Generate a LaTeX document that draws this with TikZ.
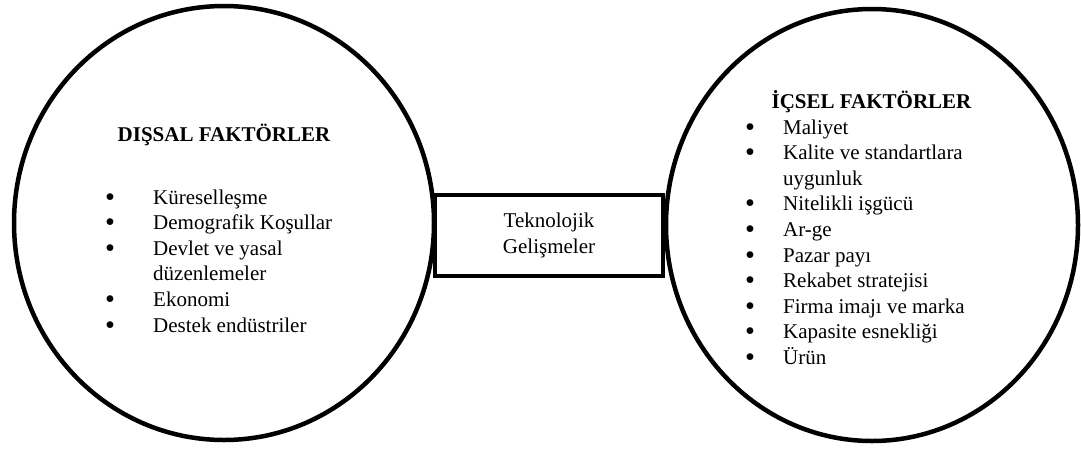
\documentclass[tikz,border=0pt]{standalone}
\usepackage{fontspec}
\setmainfont{Liberation Serif}
\usetikzlibrary{shapes.geometric}
% bullet item with a fixed indent, and a continuation line
\newcommand{\bigdot}{\raisebox{-2pt}{\scalebox{1.35}{\textbullet}}}
\newcommand{\litem}[2]{\makebox[#1][l]{\bigdot}#2}
\newcommand{\lcont}[2]{\hspace*{#1}#2}
\begin{document}
\begin{tikzpicture}[x=1pt,y=-1pt,
  ring/.style={draw, ellipse, line width=4.5pt, inner sep=0pt},
  linkbox/.style={draw, rectangle, line width=4pt, inner sep=0pt, align=center,
                  font=\fontsize{21}{25.6}\selectfont},
  body/.style={font=\fontsize{21}{25.6}\selectfont, inner sep=0pt},
  heading/.style={font=\fontsize{21}{25.6}\selectfont\bfseries, inner sep=0pt, anchor=base},
]
\useasboundingbox (0,0) rectangle (1081,448);

% the two factor circles
\node[ring, minimum width=420pt, minimum height=434pt] (ext) at (224,223) {};
\node[ring, minimum width=412pt, minimum height=432pt] (int) at (872,225) {};

% the linking box between them
\node[linkbox, minimum width=228pt, minimum height=81pt] (tech) at (549,235.5)
  {Teknolojik\\Gelişmeler};

% external factors
\node[heading] (extTitle) at (224,141) {DIŞSAL FAKTÖRLER};
\node[body, anchor=base west] (extList) at (105,204) {%
  \begin{tabular}[t]{@{}l@{}}
  \litem{48pt}{Küreselleşme}\\
  \litem{48pt}{Demografik Koşullar}\\
  \litem{48pt}{Devlet ve yasal}\\
  \lcont{48pt}{düzenlemeler}\\
  \litem{48pt}{Ekonomi}\\
  \litem{48pt}{Destek endüstriler}
  \end{tabular}};

% internal factors
\node[heading] (intTitle) at (871.5,108) {İÇSEL FAKTÖRLER};
\node[body, anchor=base west] (intList) at (745,134) {%
  \begin{tabular}[t]{@{}l@{}}
  \litem{38pt}{Maliyet}\\
  \litem{38pt}{Kalite ve standartlara}\\
  \lcont{38pt}{uygunluk}\\
  \litem{38pt}{Nitelikli işgücü}\\
  \litem{38pt}{Ar-ge}\\
  \litem{38pt}{Pazar payı}\\
  \litem{38pt}{Rekabet stratejisi}\\
  \litem{38pt}{Firma imajı ve marka}\\
  \litem{38pt}{Kapasite esnekliği}\\
  \litem{38pt}{Ürün}
  \end{tabular}};
\end{tikzpicture}
\end{document}
